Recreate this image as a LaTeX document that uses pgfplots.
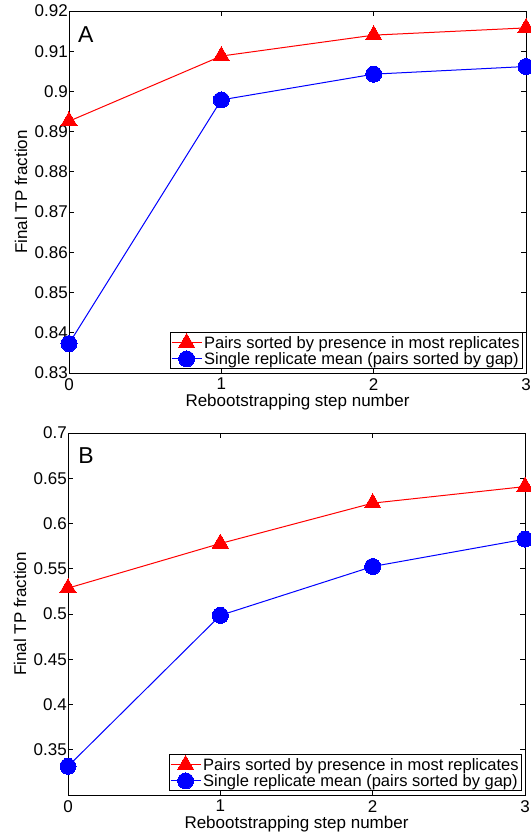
\documentclass[border=0pt]{standalone}
\usepackage{pgfplots}
\pgfplotsset{compat=1.18}
\usepackage{fontspec}
\setmainfont{Liberation Sans}

\pgfplotsset{
  panel/.style={
    width=457pt, height=362pt, scale only axis,
    xmin=0, xmax=3, xtick={0,1,2,3},
    tick align=inside, major tick length=5pt,
    axis line style={line width=0.8pt},
    every tick/.style={black, line width=0.8pt},
    font=\fontsize{17}{20}\selectfont,
    /pgf/number format/assume math mode=true,
    xlabel={Rebootstrapping step number},
    ylabel={Final TP fraction},
    xlabel style={at={(axis description cs:0.5,-0.081)}, anchor=center},
    ylabel style={at={(axis description cs:-0.105,0.5)}, anchor=center},
    yticklabel style={inner xsep=1pt},
    xticklabel style={inner ysep=5pt},
    clip=false,
    legend cell align=left,
    legend style={at={(axis description cs:0.9934,0.011)}, anchor=south east,
      draw=black, line width=0.8pt, fill=white, inner sep=1pt, row sep=-1.5pt,
      font=\fontsize{16.5}{19.5}\selectfont, nodes={inner sep=2pt}},
    legend image code/.code={%
      \draw[mark repeat=2,mark phase=2] plot coordinates {(0pt,0pt) (15pt,0pt) (30pt,0pt)};},
  },
  redline/.style={red, line width=1pt, mark=triangle*, mark size=9.5pt,
    mark options={fill=red, draw=red, line width=0pt}},
  blueline/.style={blue, line width=1pt, mark=*, mark size=8pt,
    mark options={fill=blue, draw=blue, line width=0pt}},
}

\begin{document}
\begin{tikzpicture}
% Panel A
\begin{axis}[panel, at={(69pt,-373pt)}, anchor=south west,
    ymin=0.83, ymax=0.92,
    ytick={0.83,0.84,0.85,0.86,0.87,0.88,0.89,0.9,0.91,0.92},
    yticklabels={0.83,0.84,0.85,0.86,0.87,0.88,0.89,0.9,0.91,0.92}]
  \addplot[redline] coordinates {(0,0.8926) (1,0.9088) (2,0.9140) (3,0.9158)};
  \addplot[blueline] coordinates {(0,0.8373) (1,0.8979) (2,0.9043) (3,0.9062)};
  \legend{Pairs sorted by presence in most replicates,
          Single replicate mean (pairs sorted by gap)}
  \node[anchor=north west, font=\fontsize{23}{27}\selectfont, inner sep=0pt]
    at (axis description cs:0.0197,0.9586) {A};
\end{axis}
% Panel B
\begin{axis}[panel, at={(68pt,-795pt)}, anchor=south west,
    ymin=0.3, ymax=0.7,
    ytick={0.35,0.4,0.45,0.5,0.55,0.6,0.65,0.7},
    yticklabels={0.35,0.4,0.45,0.5,0.55,0.6,0.65,0.7}]
  \addplot[redline] coordinates {(0,0.5286) (1,0.5779) (2,0.6225) (3,0.6408)};
  \addplot[blueline] coordinates {(0,0.3317) (1,0.4985) (2,0.5525) (3,0.5827)};
  \legend{Pairs sorted by presence in most replicates,
          Single replicate mean (pairs sorted by gap)}
  \node[anchor=north west, font=\fontsize{23}{27}\selectfont, inner sep=0pt]
    at (axis description cs:0.022,0.961) {B};
\end{axis}
\pgfresetboundingbox
\path (0pt,-840pt) rectangle (530pt,0pt);
\end{tikzpicture}
\end{document}
